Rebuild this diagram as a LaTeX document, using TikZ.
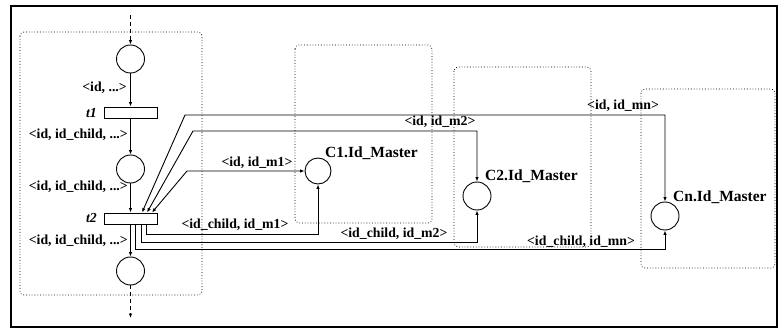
\documentclass[tikz,border=0pt]{standalone}
\usepackage{fontspec}
\setmainfont{Liberation Serif}
\usetikzlibrary{arrows.meta}
\begin{document}
\begin{tikzpicture}[x=1pt,y=-1pt,
  place/.style={circle,draw,line width=0.9pt,minimum size=28pt,inner sep=0pt},
  trans/.style={draw,line width=0.9pt,minimum width=53pt,minimum height=11pt,inner sep=0pt},
  lbl/.style={font=\bfseries\fontsize{13.8}{14}\selectfont,inner sep=0pt},
  tlbl/.style={font=\bfseries\itshape\fontsize{13.8}{14}\selectfont,inner sep=0pt},
  clbl/.style={font=\bfseries\fontsize{15.5}{16}\selectfont,inner sep=0pt},
  arc/.style={line width=0.9pt,-{Latex[length=4.5pt,width=3.5pt]}},
  darc/.style={line width=0.9pt,{Latex[length=4.5pt,width=3.5pt]}-{Latex[length=4.5pt,width=3.5pt]}},
  grp/.style={draw,line width=0.7pt,dash pattern=on 0.8pt off 2pt,rounded corners=4pt},
  ]
\useasboundingbox (0,0) rectangle (779,331);
\draw[line width=2pt] (11,6) rectangle (777,327);
% groups
\draw[grp] (20,32) rectangle (202,295);
\draw[grp] (295,45) rectangle (432,223);
\draw[grp] (454,67) rectangle (591,247);
\draw[grp] (641,89) rectangle (775,268);
% main column
\coordinate (top) at (130.5,15);
\coordinate (bot) at (130.5,318);
\node[place] (p1) at (130.5,59) {};
\node[trans] (t1) at (130.5,112.5) {};
\node[place] (p2) at (130.5,169) {};
\node[trans] (t2) at (130.5,218.5) {};
\node[place] (p3) at (130.5,271) {};
\node[tlbl,anchor=east] (lt1) at (97,113) {t1};
\node[tlbl,anchor=east] (lt2) at (97,218) {t2};
\draw[arc,dash pattern=on 4pt off 3pt] (top) -- (p1);
\draw[arc] (p1) -- (t1);
\draw[arc] (t1) -- (p2);
\draw[arc] (p2) -- (t2);
\draw[arc] (t2) -- (p3);
\draw[arc,dash pattern=on 4pt off 3pt] (p3) -- (bot);
\node[lbl,anchor=east] (l1) at (127,88) {<id, ...>};
\node[lbl,anchor=east] (l2) at (128,135) {<id, id\_child, ...>};
\node[lbl,anchor=east] (l3) at (128,187) {<id, id\_child, ...>};
\node[lbl,anchor=east] (l4) at (128,241) {<id, id\_child, ...>};
% masters
\node[place,minimum size=26pt] (c1) at (318,171) {};
\node[place] (c2) at (477,196) {};
\node[place] (cn) at (665,216) {};
\node[clbl,anchor=west] (lc1) at (325,153) {C1.Id\_Master};
\node[clbl,anchor=west] (lc2) at (485,176) {C2.Id\_Master};
\node[clbl,anchor=west] (lcn) at (673,197) {Cn.Id\_Master};
% read arcs into t2
\coordinate (a1) at ([xshift=11.5pt]t2.north);
\coordinate (a2) at ([xshift=16.5pt]t2.north);
\coordinate (a3) at ([xshift=21.5pt]t2.north);
\coordinate (bn) at (665,115);
\coordinate (bn2) at (185,115);
\coordinate (b2) at (477,131);
\coordinate (b22) at (193,131);
\coordinate (b1) at (187,171);
\draw[darc] (cn.north) -- (bn) -- (bn2) -- (a1);
\draw[darc] (c2.north) -- (b2) -- (b22) -- (a2);
\draw[darc] (c1.west) -- (b1) -- (a3);
% output arcs from t2
\coordinate (o1) at ([xshift=15.5pt]t2.south);
\coordinate (o2) at ([xshift=10.5pt]t2.south);
\coordinate (o3) at ([xshift=5pt]t2.south);
\draw[arc] (o1) |- (318,234) -- (c1.south);
\draw[arc] (o2) |- (477,242) -- (c2.south);
\draw[arc] (o3) |- (665,249) -- (cn.south);
% arc labels
\node[lbl] (e1) at (623,106) {<id, id\_mn>};
\node[lbl] (e2) at (440,122) {<id, id\_m2>};
\node[lbl] (e3) at (257,163) {<id, id\_m1>};
\node[lbl] (e4) at (235,225) {<id\_child, id\_m1>};
\node[lbl] (e5) at (394,234) {<id\_child, id\_m2>};
\node[lbl] (e6) at (581,242) {<id\_child, id\_mn>};
\end{tikzpicture}
\end{document}
